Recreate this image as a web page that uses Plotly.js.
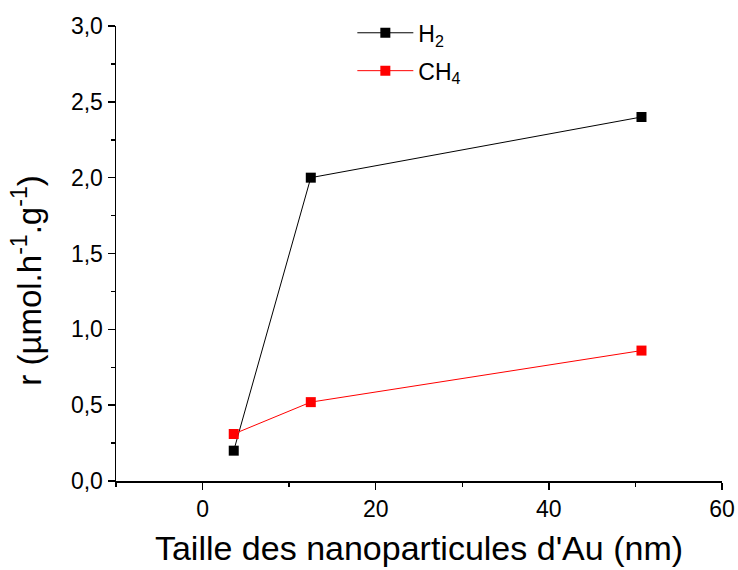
<!DOCTYPE html>
<html>
<head>
<meta charset="utf-8">
<script src="https://cdn.plot.ly/plotly-3.0.1.min.js"></script>
<style>html,body{margin:0;padding:0;background:#fff;}#chart{width:738px;height:570px;}</style>
</head>
<body>
<div id="chart"></div>
<script>
const sizes = [3.6, 12.5, 50.7];
const h2Rate = [0.20, 2.00, 2.40];
const ch4Rate = [0.31, 0.52, 0.86];
const seriesNames = ['H<sub>2</sub>', 'CH<sub>4</sub>'];
const xTitle = "Taille des nanoparticules d'Au (nm)";
const yTitle = 'r (µmol.h<sup>-1</sup>.g<sup>-1</sup>)';

const font = 'Liberation Sans, Arial, sans-serif';

const traces = [
  {x: sizes, y: h2Rate, name: seriesNames[0], type: 'scatter', mode: 'lines+markers',
   line: {color: '#000000', width: 1}, marker: {symbol: 'square', size: 10, color: '#000000'},
   legendgroup: 'a'},
  {x: sizes, y: ch4Rate, name: seriesNames[1], type: 'scatter', mode: 'lines+markers',
   line: {color: '#ff0000', width: 1}, marker: {symbol: 'square', size: 10, color: '#ff0000'},
   legendgroup: 'b'}
];

const layout = {
  width: 738, height: 570,
  margin: {l: 116, r: 16, t: 25, b: 89},
  paper_bgcolor: '#fff', plot_bgcolor: '#fff',
  separators: ', ',
  font: {family: font, color: '#000'},
  showlegend: true,
  legend: {x: 0.39, y: 1.03, xanchor: 'left', yanchor: 'top', bgcolor: 'rgba(0,0,0,0)',
           font: {size: 23, family: font}, traceorder: 'grouped', tracegroupgap: 5, itemwidth: 56},
  xaxis: {
    range: [-10, 60], dtick: 20, tick0: 0, showgrid: false, zeroline: false,
    showline: true, linecolor: '#000', linewidth: 1.5,
    ticks: 'outside', ticklen: 7, tickwidth: 1.5, tickcolor: '#000',
    tickfont: {size: 23, family: font},
    minor: {ticks: 'outside', ticklen: 4, tickwidth: 1.5, tickcolor: '#000', dtick: 10, tick0: 0, showgrid: false},
    title: {text: xTitle, font: {size: 34, family: font}, standoff: 15}
  },
  yaxis: {
    range: [0, 3], dtick: 0.5, tick0: 0, tickformat: '.1f', showgrid: false, zeroline: false,
    showline: true, linecolor: '#000', linewidth: 1.5,
    ticks: 'outside', ticklen: 7, tickwidth: 1.5, tickcolor: '#000',
    tickfont: {size: 23, family: font},
    minor: {ticks: 'outside', ticklen: 4, tickwidth: 1.5, tickcolor: '#000', dtick: 0.25, tick0: 0, showgrid: false}
  },
  annotations: [
    {text: yTitle, xref: 'paper', yref: 'paper', x: -0.147, y: 0.44, xanchor: 'center', yanchor: 'middle',
     textangle: -90, showarrow: false, font: {size: 33, family: font}}
  ]
};

Plotly.newPlot('chart', traces, layout, {displayModeBar: false, staticPlot: true});
</script>
</body>
</html>
